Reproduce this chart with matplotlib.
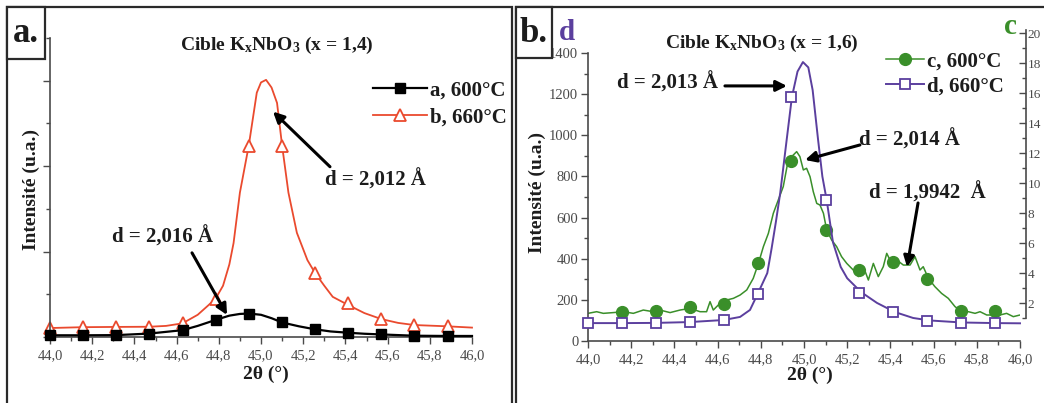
import matplotlib
matplotlib.use('Agg')
from matplotlib import pyplot as plt
from matplotlib.ticker import MultipleLocator, FuncFormatter
from matplotlib.patches import Rectangle

plt.rcParams['font.family'] = ['Liberation Serif', 'DejaVu Serif']
plt.rcParams['mathtext.fontset'] = 'custom'
plt.rcParams['mathtext.rm'] = 'Liberation Serif:bold'
plt.rcParams['mathtext.it'] = 'Liberation Serif:bold'
plt.rcParams['mathtext.bf'] = 'Liberation Serif:bold'

# --- données ---
# positions des symboles (communes aux 4 courbes)
x_mark = [44.0, 44.157, 44.314, 44.47, 44.628, 44.785, 44.942, 45.10, 45.256, 45.413, 45.57, 45.727, 45.884]

# panneau a : K_xNbO3 (x = 1,4)
xa_red = [44.0, 44.157, 44.314, 44.47, 44.55, 44.628, 44.70, 44.75, 44.785, 44.82, 44.85, 44.87, 44.90,
          44.942, 44.98, 45.00, 45.024, 45.05, 45.076, 45.10, 45.13, 45.17, 45.22, 45.256, 45.30, 45.34,
          45.413, 45.49, 45.57, 45.65, 45.727, 45.884, 46.0]
red_line = [105, 115, 118, 120, 130, 160, 260, 370, 450, 600, 850, 1100, 1690,
            2240, 2860, 2980, 3010, 2920, 2740, 2240, 1690, 1220, 900, 750, 600, 470,
            375, 280, 210, 165, 140, 125, 110]
red_mark = [105, 120, 120, 120, 160, 450, 2240, 2240, 750, 400, 210, 140, 130]

xa_blk = [44.0, 44.157, 44.314, 44.47, 44.628, 44.70, 44.785, 44.85, 44.90, 44.942, 45.00, 45.05,
          45.10, 45.18, 45.256, 45.33, 45.413, 45.49, 45.57, 45.727, 45.884, 46.0]
blk_line = [20, 20, 22, 40, 80, 130, 200, 250, 270, 275, 260, 220,
            170, 125, 90, 65, 50, 38, 30, 15, 12, 12]
blk_mark = [20, 20, 20, 40, 80, 200, 270, 170, 90, 50, 30, 10, 10]

# panneau b : K_xNbO3 (x = 1,6)
xb_pur = [44.0, 44.157, 44.314, 44.47, 44.628, 44.704, 44.75, 44.785, 44.83, 44.85, 44.87, 44.89, 44.92,
          44.944, 44.97, 44.995, 45.02, 45.04, 45.065, 45.085, 45.105, 45.134, 45.17, 45.20, 45.264,
          45.338, 45.42, 45.505, 45.58, 45.73, 45.89, 46.0]
pur_line = [87, 87, 88, 92, 102, 117, 151, 228, 330, 450, 580, 720, 980,
            1186, 1310, 1356, 1330, 1220, 980, 800, 685, 480, 360, 305, 238,
            185, 141, 112, 100, 90, 87, 86]
pur_mark = [87, 87, 87, 92, 102, 228, 1186, 685, 233, 141, 97, 87, 87]

xb_grn = [44.000, 44.040, 44.071, 44.117, 44.164, 44.210, 44.256, 44.302, 44.333, 44.380, 44.426,
          44.472, 44.519, 44.549, 44.565, 44.580, 44.611, 44.642, 44.673, 44.704, 44.735, 44.765,
          44.789, 44.812, 44.835, 44.858, 44.881, 44.904, 44.927, 44.943, 44.966, 44.981, 44.997,
          45.012, 45.028, 45.043, 45.059, 45.074, 45.090, 45.105, 45.128, 45.151, 45.174, 45.198,
          45.228, 45.252, 45.275, 45.298, 45.321, 45.344, 45.367, 45.383, 45.406, 45.429, 45.460,
          45.491, 45.514, 45.537, 45.552, 45.576, 45.606, 45.637, 45.668, 45.699, 45.730, 45.761,
          45.792, 45.815, 45.846, 45.877, 45.907, 45.938, 45.969, 46.000]
grn_line = [131, 142, 131, 136, 142, 131, 153, 142, 153, 136, 153,
            164, 142, 142, 209, 153, 198, 220, 231, 253, 287, 364,
            464, 576, 664, 798, 887, 976, 1153, 1176, 1209, 1176, 1087,
            1098, 1042, 942, 864, 853, 798, 687, 620, 576, 509, 464,
            420, 376, 442, 353, 464, 376, 442, 531, 464, 487, 453,
            453, 509, 420, 442, 364, 309, 264, 231, 176, 142, 142,
            131, 142, 120, 120, 120, 131, 109, 120]
grn_mark = [None, 140, 147, 173, 193, 467, 1147, 687, 420, 473, 360, 147, 147]

W, H = 1044, 403
RED = '#ea4a2e'
GRN = '#3a8f2a'
PUR = '#5b3f9e'
TXT = '#1c1c1c'
TCK = '#4a4a4a'
BOLD = dict(fontweight='bold', color=TXT)


def px(x0, y0, x1, y1):
    # rectangle en pixels (origine en haut à gauche) -> coordonnées figure
    return [x0 / W, 1 - y1 / H, (x1 - x0) / W, (y1 - y0) / H]


def ftext(x, y, s, **kw):
    # texte placé en pixels de la figure
    return fig.text(x / W, 1 - y / H, s, ha='center', va='center', **kw)


comma = FuncFormatter(lambda v, p: ('%.1f' % v).replace('.', ','))

fig = plt.figure(figsize=(W / 100, H / 100), dpi=100)


def style_x(ax):
    ax.set_xlim(44.0, 46.0)
    ax.xaxis.set_major_locator(MultipleLocator(0.2))
    ax.xaxis.set_minor_locator(MultipleLocator(0.1))
    ax.xaxis.set_major_formatter(comma)
    ax.tick_params(axis='x', which='major', length=5, width=1, colors=TCK, labelsize=10.5, pad=4)
    ax.tick_params(axis='x', which='minor', length=3, width=1, colors=TCK)
    for s in ['top', 'right']:
        ax.spines[s].set_visible(False)
    for s in ['left', 'bottom']:
        ax.spines[s].set_color(TCK)
        ax.spines[s].set_linewidth(1.2)


# ---------------- panneau a ----------------
axa = fig.add_axes(px(50, 38, 472, 337))
style_x(axa)
axa.set_ylim(0, 3500)
axa.yaxis.set_major_locator(MultipleLocator(1000))
axa.yaxis.set_minor_locator(MultipleLocator(500))
axa.yaxis.set_major_formatter(FuncFormatter(lambda v, p: ''))
axa.tick_params(axis='y', which='major', length=5, width=1, colors=TCK)
axa.tick_params(axis='y', which='minor', length=3, width=1, colors=TCK)
ftext(266, 374, '2θ (°)', fontsize=14, **BOLD)
ftext(31, 190, 'Intensité (u.a.)', fontsize=14, rotation=90, **BOLD)

axa.plot(xa_blk, blk_line, color='black', lw=1.6, clip_on=False, zorder=3)
axa.plot(x_mark, blk_mark, ls='none', marker='s', ms=7, color='black', clip_on=False, zorder=4)
axa.plot(xa_red, red_line, color=RED, lw=1.3, clip_on=False, zorder=2)
axa.plot(x_mark, red_mark, ls='none', marker='^', ms=9, mfc='white', mec=RED, mew=1.3,
         clip_on=False, zorder=2.5)

ha, = axa.plot([], [], color='black', lw=1.6, marker='s', ms=7)
hb, = axa.plot([], [], color=RED, lw=1.3, marker='^', ms=9, mfc='white', mec=RED, mew=1.3)
la = fig.legend([ha, hb], ['a, 600°C', 'b, 660°C'], loc='upper right',
                bbox_to_anchor=(517 / W, 1 - 70 / H), frameon=False, handlelength=2.6,
                handletextpad=0.15, labelspacing=0.35, borderpad=0,
                prop=dict(weight='bold', size=15))
for t in la.get_texts():
    t.set_color(TXT)

arrow = dict(arrowstyle='-|>', lw=2.2, color='black', mutation_scale=16, shrinkA=0, shrinkB=0)
axa.annotate('', xy=(45.057, 2638), xytext=(45.327, 1993), arrowprops=arrow)
axa.text(45.54, 1840, 'd = 2,012 Å', ha='center', va='center', fontsize=15, **BOLD)
axa.annotate('', xy=(44.839, 258), xytext=(44.673, 985), arrowprops=arrow)
axa.text(44.531, 1172, 'd = 2,016 Å', ha='center', va='center', fontsize=15, **BOLD)
ftext(277, 45, 'Cible K$_\\mathregular{x}$NbO$_\\mathregular{3}$ (x = 1,4)', fontsize=14, **BOLD)

# ---------------- panneau b ----------------
axb = fig.add_axes(px(588, 53, 1020, 341))
style_x(axb)
axb.set_ylim(0, 1400)
axb.yaxis.set_major_locator(MultipleLocator(200))
axb.yaxis.set_minor_locator(MultipleLocator(100))
axb.tick_params(axis='y', which='major', length=5, width=1, colors=TCK, labelsize=10.5, pad=2)
axb.tick_params(axis='y', which='minor', length=3, width=1, colors=TCK)
ftext(810, 375, '2θ (°)', fontsize=14, **BOLD)
ftext(537, 192, 'Intensité (u.a.)', fontsize=14, rotation=90, **BOLD)

# axe de droite (courbe c), graduations en centaines
axc = fig.add_axes(px(588, 30, 1020, 318))
axc.patch.set_visible(False)
axc.set_xlim(44.0, 46.0)
axc.set_ylim(100, 2020)
for s in ['top', 'left', 'bottom']:
    axc.spines[s].set_visible(False)
axc.spines['right'].set_position(('outward', 4))
axc.spines['right'].set_color(TCK)
axc.spines['right'].set_linewidth(1.2)
axc.set_xticks([])
axc.yaxis.tick_right()
axc.yaxis.set_major_locator(MultipleLocator(200))
axc.yaxis.set_minor_locator(MultipleLocator(100))
axc.yaxis.set_major_formatter(FuncFormatter(lambda v, p: '%d' % round(v / 100)))
axc.tick_params(axis='y', which='major', direction='in', length=5, width=1, colors=TCK, labelsize=9.5, pad=1.5)
axc.tick_params(axis='y', which='minor', direction='in', length=3, width=1, colors=TCK)

axc.plot(xb_grn, grn_line, color=GRN, lw=1.1, zorder=2)
gx = [x for x, v in zip(x_mark, grn_mark) if v is not None]
gy = [v for v in grn_mark if v is not None]
axc.plot(gx, gy, ls='none', marker='o', ms=8.5, color=GRN, zorder=3)

axb.plot(xb_pur, pur_line, color=PUR, lw=1.4, clip_on=False, zorder=3)
axb.plot(x_mark, pur_mark, ls='none', marker='s', ms=7.5, mfc='white', mec=PUR, mew=1.3,
         clip_on=False, zorder=4)
axc.set_zorder(axb.get_zorder() - 1)
axb.patch.set_visible(False)

hc, = axc.plot([], [], color=GRN, lw=1.1, marker='o', ms=8.5)
hd, = axc.plot([], [], color=PUR, lw=1.4, marker='s', ms=7.5, mfc='white', mec=PUR, mew=1.3)
lb = fig.legend([hc, hd], ['c, 600°C', 'd, 660°C'], loc='upper right',
                bbox_to_anchor=(1014 / W, 1 - 41 / H), frameon=False, handlelength=1.8,
                handletextpad=0.15, labelspacing=0.25, borderpad=0,
                prop=dict(weight='bold', size=15))
for t in lb.get_texts():
    t.set_color(TXT)

axb.annotate('', xy=(44.921, 1240), xytext=(44.634, 1240), arrowprops=arrow)
axb.text(44.37, 1254, 'd = 2,013 Å', ha='center', va='center', fontsize=15, **BOLD)
axb.annotate('', xy=(45.005, 880), xytext=(45.259, 953), arrowprops=arrow)
axb.text(45.49, 977, 'd = 2,014 Å', ha='center', va='center', fontsize=15, **BOLD)
axb.annotate('', xy=(45.477, 360), xytext=(45.528, 671), arrowprops=arrow)
axb.text(45.57, 719, 'd = 1,9942  Å', ha='center', va='center', fontsize=15, **BOLD)
ftext(762, 43, 'Cible K$_\\mathregular{x}$NbO$_\\mathregular{3}$ (x = 1,6)', fontsize=14, **BOLD)
ftext(567, 33, 'd', fontsize=21, fontweight='bold', color=PUR)
ftext(1010, 27, 'c', fontsize=21, fontweight='bold', color=GRN)

# ---------------- cadres ----------------
fig.add_artist(Rectangle((7 / W, -0.05), (512 - 7) / W, 1.05 - 7 / H, transform=fig.transFigure,
                         fill=False, ec='#2a2a2a', lw=1.6))
fig.add_artist(Rectangle((516 / W, -0.05), 0.6, 1.05 - 7 / H, transform=fig.transFigure,
                         fill=False, ec='#2a2a2a', lw=1.6))
for x0, x1, y1, lab in [(7, 45, 59, 'a.'), (516, 552, 58, 'b.')]:
    fig.add_artist(Rectangle((x0 / W, 1 - y1 / H), (x1 - x0) / W, (y1 - 7) / H, transform=fig.transFigure,
                             fc='white', ec='#2a2a2a', lw=1.6, zorder=10))
    ftext((x0 + x1) / 2, 33, lab, fontsize=25, fontweight='bold', color=TXT, zorder=11)

fig.savefig('out.png', dpi=100)
